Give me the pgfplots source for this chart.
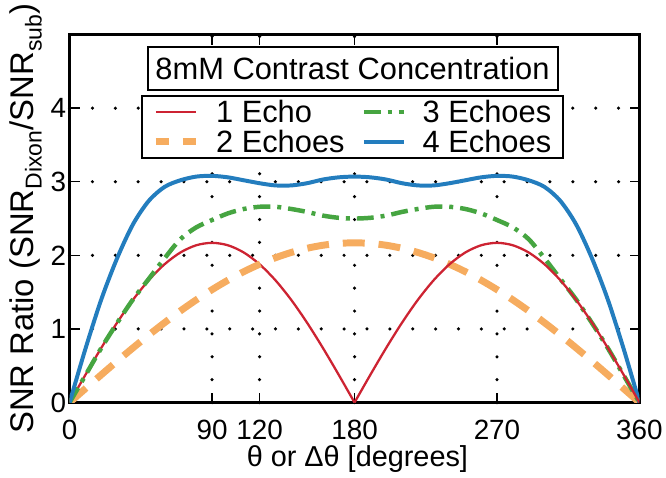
\documentclass[border=0pt]{standalone}
\usepackage{fontspec}
\setmainfont{Liberation Sans}
\usepackage{pgfplots}
\usepackage{pgfplotstable}
\pgfplotsset{compat=1.18}

\definecolor{echoone}{RGB}{205,35,50}
\definecolor{echotwo}{RGB}{246,172,95}
\definecolor{echothree}{RGB}{70,165,65}
\definecolor{echofour}{RGB}{35,125,190}

% theta, 2 echoes, 3 echoes, 4 echoes
\pgfplotstableread{
theta two three four
0   0.000 0.00 0.00
10  0.189 0.37 0.73
20  0.377 0.74 1.40
30  0.562 1.08 1.96
40  0.742 1.40 2.42
50  0.917 1.68 2.74
60  1.085 1.96 2.93
70  1.245 2.22 3.02
80  1.395 2.38 3.07
90  1.534 2.48 3.08
100 1.662 2.57 3.06
110 1.778 2.63 3.02
120 1.879 2.66 2.98
130 1.967 2.66 2.95
140 2.039 2.63 2.95
150 2.096 2.59 2.98
160 2.137 2.54 3.03
170 2.162 2.51 3.06
180 2.170 2.50 3.07
190 2.162 2.51 3.06
200 2.137 2.54 3.03
210 2.096 2.59 2.98
220 2.039 2.63 2.95
230 1.967 2.66 2.95
240 1.879 2.66 2.98
250 1.778 2.63 3.02
260 1.662 2.57 3.06
270 1.534 2.48 3.08
280 1.395 2.38 3.07
290 1.245 2.22 3.02
300 1.085 1.96 2.93
310 0.917 1.68 2.74
320 0.742 1.40 2.42
330 0.562 1.08 1.96
340 0.377 0.74 1.40
350 0.189 0.37 0.73
360 0.000 0.00 0.00
}\echoes

\newcommand{\tickfont}{\fontsize{28}{30}\selectfont}
\newcommand{\legfont}{\fontsize{31}{30}\selectfont}

\begin{document}
\begin{tikzpicture}
\begin{axis}[
    scale only axis,
    width=573pt,
    height=370pt,
    xmin=0, xmax=360,
    ymin=0, ymax=5,
    xtick={0,90,120,180,270,360},
    ytick={0,1,2,3,4},
    extra x ticks={90,120,180,270},
    extra y ticks={1,2,3,4},
    extra x tick labels={},
    extra y tick labels={},
    extra tick style={grid=major},
    major grid style={black, line width=3.5pt, line cap=round, dash pattern=on 0pt off 23pt},
    tick align=inside,
    major tick length=10pt,
    every tick/.style={black, line width=1.5pt},
    axis line style={line width=2.5pt},
    /pgf/number format/assume math mode=true,
    tick label style={font=\tickfont},
    xticklabel style={yshift=-14pt},
    xlabel={θ or Δθ [degrees]},
    ylabel={SNR Ratio (SNR\textsubscript{Dixon}/SNR\textsubscript{sub})},
    xlabel style={font=\fontsize{29}{31}\selectfont, at={(axis description cs:0.505,-0.153)}, anchor=center},
    ylabel style={font=\fontsize{33}{35}\selectfont, at={(axis description cs:-0.077,0.5)}, anchor=center},
    legend columns=2,
    transpose legend,
    legend cell align=left,
    legend image code/.code={\draw[#1] (0pt,0pt) -- (40pt,0pt);},
    legend style={at={(axis description cs:0.497,0.835)}, anchor=north,
        draw=black, line width=2pt, fill=white, font=\legfont,
        inner xsep=10pt, inner ysep=2pt, row sep=2pt,
        /tikz/every odd column/.append style={column sep=15pt},
        /tikz/every even column/.append style={column sep=15pt}},
]
\addplot[echoone, line width=2.3pt, smooth] coordinates {
    (0,0) (10,0.377) (20,0.742) (30,1.085) (40,1.395) (50,1.662) (60,1.879)
    (70,2.039) (80,2.137) (90,2.17) (100,2.137) (110,2.039) (120,1.879)
    (130,1.662) (140,1.395) (150,1.085) (160,0.742) (170,0.377) (180,0)
};
\addlegendentry{1 Echo}
\addplot[echotwo, line width=7pt, dash pattern=on 22pt off 14pt, smooth,
    legend image post style={dash pattern=on 13pt off 14pt}]
    table[x=theta, y=two] {\echoes};
\addlegendentry{2 Echoes}
\addplot[echothree, line width=4.5pt, dash pattern=on 17pt off 7pt on 4pt off 7pt, smooth]
    table[x=theta, y=three] {\echoes};
\addlegendentry{3 Echoes}
\addplot[echofour, line width=4pt, smooth]
    table[x=theta, y=four] {\echoes};
\addlegendentry{4 Echoes}
\addplot[echoone, line width=2.3pt, smooth, forget plot] coordinates {
    (180,0) (190,0.377) (200,0.742) (210,1.085) (220,1.395) (230,1.662)
    (240,1.879) (250,2.039) (260,2.137) (270,2.17) (280,2.137) (290,2.039)
    (300,1.879) (310,1.662) (320,1.395) (330,1.085) (340,0.742) (350,0.377) (360,0)
};
\node[draw=black, line width=2pt, fill=white, anchor=north,
      font=\fontsize{31}{33}\selectfont, inner xsep=8pt, inner ysep=10pt]
    at (axis description cs:0.4965,0.9676) {8mM Contrast Concentration};
\end{axis}
% page frame with the reference's margins round the axis
\path (current axis.south west) +(-70pt,-75pt) (current axis.north east) +(23pt,33pt);
\end{tikzpicture}
\end{document}
